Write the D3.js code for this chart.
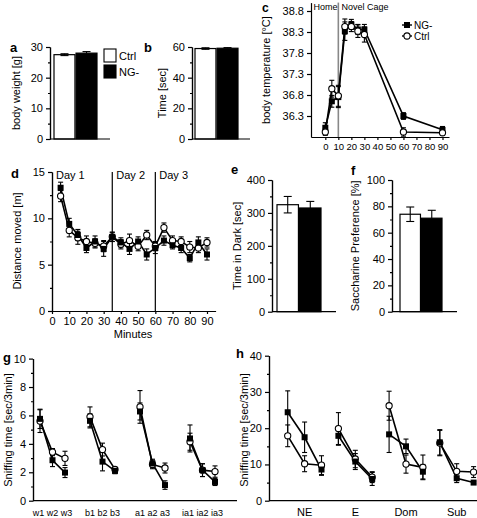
<!DOCTYPE html>
<html><head><meta charset="utf-8">
<script src="https://cdn.jsdelivr.net/npm/d3@7"></script>
<style>body{margin:0;background:#fff}svg{display:block}</style>
</head><body><svg width="477" height="518"></svg>
<script>
// ---------- DATA ----------
const groups = ["Ctrl", "NG-"];
// a: body weight [g]
const weightMean = [27.5, 28.0];
const weightErr = [0.3, 0.5];
// b: time [sec]
const timeMean = [59.0, 59.2];
const timeErr = [0.5, 0.4];
// c: body temperature
const tempMinutes = [0, 5, 10, 15, 20, 25, 30, 60, 90];
const tempNG = [36.02, 36.65, 36.75, 38.32, 38.48, 38.36, 38.36, 36.30, 35.97];
const tempNGErr = [0.12, 0.14, 0.25, 0.22, 0.12, 0.12, 0.12, 0.08, 0.08];
const tempCtrl = [35.92, 36.95, 36.78, 38.43, 38.43, 38.32, 38.24, 35.92, 35.90];
const tempCtrlErr = [0.08, 0.2, 0.25, 0.18, 0.12, 0.15, 0.18, 0.1, 0.05];
const tempTicks = [36.3, 36.8, 37.3, 37.8, 38.3, 38.8];
// d: distance moved
const distMinutes = [5, 10, 15, 20, 25, 30, 35, 40, 45, 50, 55, 60, 65, 70, 75, 80, 85, 90];
const distNG = [13.3, 9.4, 8.2, 6.8, 7.5, 6.7, 8.0, 7.4, 6.7, 7.5, 6.1, 6.8, 7.6, 7.1, 6.8, 5.7, 7.4, 6.1];
const distNGErr = [0.6, 0.6, 0.6, 0.5, 0.6, 0.8, 0.5, 0.5, 0.6, 0.5, 0.6, 0.6, 0.5, 0.4, 0.5, 0.4, 0.6, 0.6];
const distCtrl = [12.4, 8.7, 7.9, 7.5, 7.3, 7.0, 8.0, 7.2, 7.6, 7.0, 8.2, 7.0, 9.0, 7.6, 7.5, 6.9, 6.8, 7.4];
const distCtrlErr = [0.6, 0.7, 0.7, 0.6, 0.5, 0.6, 0.5, 0.5, 0.7, 0.5, 0.5, 0.5, 0.5, 0.5, 0.5, 0.6, 0.5, 0.5];
const dayLabels = ["Day 1", "Day 2", "Day 3"];
const dayStarts = [0, 35, 60];
// e: time in dark
const darkMean = [325, 315];
const darkErr = [25, 20];
// f: saccharine preference
const sacMean = [74, 71];
const sacErr = [5.5, 6];
// g: sniffing time
const gLabels = ["w1", "w2", "w3", "b1", "b2", "b3", "a1", "a2", "a3", "ia1", "ia2", "ia3"];
const gSlots = [0, 1, 2, 4, 5, 6, 8, 9, 10, 12, 13, 14];
const gNG = [5.76, 2.85, 1.98, 5.62, 2.75, 2.1, 6.28, 2.62, 1.1, 4.38, 2.15, 1.32];
const gNGErr = [0.68, 0.45, 0.35, 0.5, 0.65, 0.2, 0.6, 0.3, 0.3, 0.95, 0.45, 0.25];
const gCtrl = [5.6, 3.42, 2.98, 5.9, 3.6, 2.2, 6.6, 2.55, 2.3, 4.15, 2.15, 2.05];
const gCtrlErr = [0.8, 0.25, 0.5, 0.7, 0.45, 0.15, 1.15, 0.3, 0.35, 0.6, 0.45, 0.4];
// h: sniffing time by partner
const hGroups = ["NE", "E", "Dom", "Sub"];
const hNG = [24.4, 17.5, 8.6, 17.9, 10.8, 6.0, 18.3, 15.0, 8.0, 16.1, 6.2, 5.0];
const hNGErr = [5.9, 4.2, 1.6, 2.6, 2.2, 1.8, 5.0, 2.0, 2.0, 3.5, 1.2, 0.3];
const hCtrl = [17.9, 10.2, 9.8, 19.9, 11.5, 6.5, 26.2, 10.1, 9.2, 15.9, 8.1, 7.9];
const hCtrlErr = [3.0, 2.2, 2.6, 4.4, 2.4, 1.5, 4.0, 2.5, 3.4, 3.5, 2.1, 1.5];

// ---------- HELPERS ----------
const FONT = "'Liberation Sans', Arial, Helvetica, sans-serif";
const svg = d3.select("svg");

function styleAxis(g, size) {
  g.attr("font-family", FONT).attr("font-size", size || 11);
  g.selectAll("path,line").attr("stroke", "#000").attr("stroke-width", 1.2);
  g.selectAll("text").attr("fill", "#000");
}
function yAxis(x, y, major, minor, fmt) {
  if (minor && minor.length) {
    styleAxis(svg.append("g").attr("transform", `translate(${x},0)`)
      .call(d3.axisLeft(y).tickValues(minor).tickSize(2).tickSizeOuter(0).tickFormat("")));
  }
  styleAxis(svg.append("g").attr("transform", `translate(${x},0)`)
    .call(d3.axisLeft(y).tickValues(major).tickSize(4).tickSizeOuter(0).tickFormat(fmt || (d => d))));
}
function xAxisLine(x0, x1, yPos) {
  svg.append("line").attr("x1", x0).attr("x2", x1).attr("y1", yPos).attr("y2", yPos)
    .attr("stroke", "#000").attr("stroke-width", 1.2);
}
function txt(x, y, s, opts = {}) {
  const t = svg.append("text").attr("x", x).attr("y", y).text(s)
    .attr("font-family", FONT).attr("font-size", opts.size || 11)
    .attr("font-weight", opts.bold ? "bold" : "normal")
    .attr("text-anchor", opts.anchor || "start").attr("fill", opts.fill || "#000");
  if (opts.rotate) t.attr("transform", `rotate(-90,${x},${y})`);
  return t;
}
function errBar(x, y, m, e, cap, up, down) {
  const g = svg.append("g").attr("stroke", "#000").attr("stroke-width", 1.1);
  const yt = y(m + (up === false ? 0 : e)), yb = y(m - (down === false ? 0 : e));
  g.append("line").attr("x1", x).attr("x2", x).attr("y1", yt).attr("y2", yb);
  if (up !== false) g.append("line").attr("x1", x - cap / 2).attr("x2", x + cap / 2).attr("y1", y(m + e)).attr("y2", y(m + e));
  if (down !== false) g.append("line").attr("x1", x - cap / 2).attr("x2", x + cap / 2).attr("y1", y(m - e)).attr("y2", y(m - e));
}
function barPanel(p) {
  const y = d3.scaleLinear().domain([0, p.max]).range([p.bottom, p.top]);
  const x = d3.scaleBand().domain(groups).range(p.band).paddingInner(0.05);
  groups.forEach((gname, i) => {
    svg.append("rect").attr("x", x(gname)).attr("width", x.bandwidth())
      .attr("y", y(p.means[i])).attr("height", y(0) - y(p.means[i]))
      .attr("fill", i === 0 ? "#fff" : "#000").attr("stroke", "#000").attr("stroke-width", 1.2);
    errBar(x(gname) + x.bandwidth() / 2, y, p.means[i], p.errs[i], 8, true, i === 0);
  });
  yAxis(p.left, y, p.major, p.minor);
  xAxisLine(p.left, p.right, y(0));
  txt(p.titleX, (p.top + p.bottom) / 2, p.title, { anchor: "middle", rotate: true });
  txt(p.labelX, p.labelY, p.label, { bold: true, size: 13 });
  return { x, y };
}
function series(xv, yv, ev, x, y, cap) {
  const pts = xv.map((d, i) => [x(d), y(yv[i])]);
  svg.append("path").attr("d", d3.line()(pts)).attr("fill", "none")
    .attr("stroke", "#000").attr("stroke-width", 1.6);
  xv.forEach((d, i) => errBar(x(d), y, yv[i], ev[i], cap || 5));
  return pts;
}
function markers(pts, marker) {
  pts.forEach(([px, py]) => {
    if (marker === "square") {
      svg.append("rect").attr("x", px - 3).attr("y", py - 3).attr("width", 6).attr("height", 6).attr("fill", "#000");
    } else {
      svg.append("circle").attr("cx", px).attr("cy", py).attr("r", 3.1)
        .attr("fill", "#fff").attr("stroke", "#000").attr("stroke-width", 1.1);
    }
  });
}

// ---------- PANEL a ----------
barPanel({ max: 30, top: 47, bottom: 139, left: 50, right: 110, band: [54, 97],
  means: weightMean, errs: weightErr, major: [0, 10, 20, 30], minor: [5, 15, 25],
  title: "body weight [g]", titleX: 20, label: "a", labelX: 10, labelY: 52 });
groups.forEach((gname, i) => {
  svg.append("rect").attr("x", 104).attr("y", 49 + i * 16).attr("width", 12).attr("height", 13)
    .attr("fill", i === 0 ? "#fff" : "#000").attr("stroke", "#000").attr("stroke-width", 1.1);
  txt(119, 60 + i * 16, gname);
});

// ---------- PANEL b ----------
barPanel({ max: 60, top: 47, bottom: 139, left: 192, right: 250, band: [195, 238],
  means: timeMean, errs: timeErr, major: [0, 20, 40, 60], minor: [10, 30, 50],
  title: "Time [sec]", titleX: 166, label: "b", labelX: 144, labelY: 52 });

// ---------- PANEL c ----------
{
  const x = d3.scaleLinear().domain([-11, 95]).range([311, 449]);
  const y = d3.scaleLinear().domain([35.8, 39.0]).range([137, 2.6]);
  svg.append("line").attr("x1", x(10)).attr("x2", x(10)).attr("y1", y(39.0)).attr("y2", y(35.8))
    .attr("stroke", "#888").attr("stroke-width", 1.6);
  const p1 = series(tempMinutes, tempNG, tempNGErr, x, y);
  const p2 = series(tempMinutes, tempCtrl, tempCtrlErr, x, y);
  markers(p1, "square"); markers(p2, "circle");
  yAxis(311, y, tempTicks, [], d3.format(".1f"));
  styleAxis(svg.append("g").attr("transform", `translate(0,${y(35.8)})`)
    .call(d3.axisBottom(x).tickValues(d3.range(0, 91, 10)).tickSize(3).tickSizeOuter(0)), 9.5);
  txt(313.5, 10, "Home", { size: 9 });
  txt(341.5, 10, "Novel Cage", { size: 9 });
  txt(270, 70, "body temperature [°C]", { anchor: "middle", rotate: true });
  txt(262, 12, "c", { bold: true, size: 12 });
  [["NG-", "square", 25], ["Ctrl", "circle", 36]].forEach(([lab, m, ly]) => {
    svg.append("line").attr("x1", 402).attr("x2", 412).attr("y1", ly).attr("y2", ly)
      .attr("stroke", "#000").attr("stroke-width", 1.4);
    markers([[407, ly]], m);
    txt(414, ly + 3.5, lab, { size: 10 });
  });
}

// ---------- PANEL d ----------
{
  const x = d3.scaleLinear().domain([0, 95]).range([52, 215.6]);
  const y = d3.scaleLinear().domain([0, 15]).range([311, 172]);
  dayStarts.forEach((d, i) => {
    if (i > 0) svg.append("line").attr("x1", x(d)).attr("x2", x(d)).attr("y1", y(15)).attr("y2", y(0))
      .attr("stroke", "#000").attr("stroke-width", 1.2);
    txt(x(d) + 4, 179, dayLabels[i]);
  });
  const p1 = series(distMinutes, distNG, distNGErr, x, y);
  const p2 = series(distMinutes, distCtrl, distCtrlErr, x, y);
  markers(p2, "circle"); markers(p1, "square");
  yAxis(52, y, [0, 5, 10, 15], [2.5, 7.5, 12.5]);
  styleAxis(svg.append("g").attr("transform", `translate(0,${y(0)})`)
    .call(d3.axisBottom(x).tickValues(d3.range(0, 91, 10)).tickSize(3).tickSizeOuter(0)));
  txt(133, 338, "Minutes", { anchor: "middle" });
  txt(21, 241, "Distance moved [m]", { anchor: "middle", rotate: true });
  txt(11, 178, "d", { bold: true, size: 13 });
}

// ---------- PANEL e ----------
barPanel({ max: 400, top: 180, bottom: 311.7, left: 272, right: 336, band: [277, 321],
  means: darkMean, errs: darkErr, major: [0, 100, 200, 300, 400], minor: [50, 150, 250, 350],
  title: "Time in Dark [sec]", titleX: 241, label: "e", labelX: 231, labelY: 174 });

// ---------- PANEL f ----------
barPanel({ max: 100, top: 180, bottom: 311.7, left: 392, right: 457, band: [400, 442],
  means: sacMean, errs: sacErr, major: [0, 20, 40, 60, 80, 100], minor: [10, 30, 50, 70, 90],
  title: "Saccharine Preference [%]", titleX: 359, label: "f", labelX: 351, labelY: 175 });

// ---------- PANEL g ----------
{
  const x = d3.scaleLinear().domain([0, 15]).range([40, 227.5]);
  const y = d3.scaleLinear().domain([0, 10]).range([500.7, 358.6]);
  for (let k = 0; k < 4; k++) {
    const idx = [k * 3, k * 3 + 1, k * 3 + 2];
    const sl = idx.map(i => gSlots[i]);
    const p1 = series(sl, idx.map(i => gCtrl[i]), idx.map(i => gCtrlErr[i]), x, y);
    const p2 = series(sl, idx.map(i => gNG[i]), idx.map(i => gNGErr[i]), x, y);
    markers(p1, "circle"); markers(p2, "square");
    txt(x(sl[1]), 516, idx.map(i => gLabels[i]).join(" "), { anchor: "middle", size: 9 });
  }
  yAxis(33, y, [0, 2, 4, 6, 8, 10], [1, 3, 5, 7, 9]);
  xAxisLine(33, 237, y(0));
  txt(12, 430, "Sniffing time [sec/3min]", { anchor: "middle", rotate: true });
  txt(3, 362, "g", { bold: true, size: 13 });
}

// ---------- PANEL h ----------
{
  const x = d3.scaleLinear().domain([0, 11]).range([287.7, 473.6]);
  const y = d3.scaleLinear().domain([0, 40]).range([500.7, 355.7]);
  for (let k = 0; k < 4; k++) {
    const idx = [k * 3, k * 3 + 1, k * 3 + 2];
    const p1 = series(idx, idx.map(i => hCtrl[i]), idx.map(i => hCtrlErr[i]), x, y);
    const p2 = series(idx, idx.map(i => hNG[i]), idx.map(i => hNGErr[i]), x, y);
    markers(p1, "circle"); markers(p2, "square");
    txt(x(k * 3 + 1), 516, hGroups[k], { anchor: "middle" });
  }
  yAxis(269, y, [0, 10, 20, 30, 40], [5, 15, 25, 35]);
  xAxisLine(269, 477, y(0));
  txt(248, 430, "Sniffing time [sec/3min]", { anchor: "middle", rotate: true });
  txt(236, 358, "h", { bold: true, size: 13 });
}
</script></body></html>
